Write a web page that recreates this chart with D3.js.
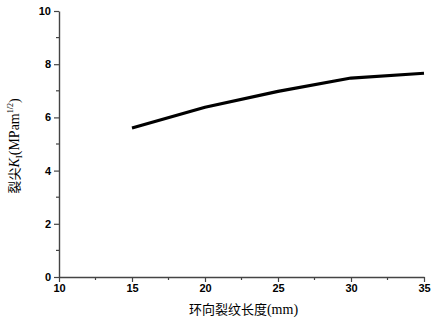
<!DOCTYPE html>
<html>
<head>
<meta charset="utf-8">
<script src="https://cdn.jsdelivr.net/npm/d3@7"></script>
<style>
  body { margin: 0; background: #fff; }
</style>
</head>
<body>
<div id="grafico"></div>
<script>
// dados
const comprimentos = [15, 20, 25, 30, 35];
const valoresK = [5.6, 6.38, 6.98, 7.48, 7.66];
const ticksX = [10, 15, 20, 25, 30, 35];
const ticksY = [0, 2, 4, 6, 8, 10];

const largura = 436;
const altura = 323;
const margem = { top: 11, right: 12, bottom: 46, left: 59 };

const svg = d3.select("#grafico").append("svg")
    .attr("width", largura)
    .attr("height", altura);

const escalaX = d3.scaleLinear()
    .domain([10, 35])
    .range([margem.left, largura - margem.right]);

const escalaY = d3.scaleLinear()
    .domain([0, 10])
    .range([altura - margem.bottom, margem.top]);

const corEixo = "#444";

// ticks menores
const menoresX = d3.range(12.5, 35, 5);
const menoresY = d3.range(1, 10, 2);

const gx = svg.append("g")
    .attr("transform", `translate(0,${altura - margem.bottom})`);
gx.selectAll("line.menor").data(menoresX).enter().append("line")
    .attr("x1", d => escalaX(d)).attr("x2", d => escalaX(d))
    .attr("y1", 0).attr("y2", 3)
    .attr("stroke", corEixo).attr("stroke-width", 1.2);
gx.call(d3.axisBottom(escalaX).tickValues(ticksX).tickSize(5).tickPadding(2).tickSizeOuter(0));

const gy = svg.append("g")
    .attr("transform", `translate(${margem.left},0)`);
gy.selectAll("line.menor").data(menoresY).enter().append("line")
    .attr("y1", d => escalaY(d)).attr("y2", d => escalaY(d))
    .attr("x1", 0).attr("x2", -3)
    .attr("stroke", corEixo).attr("stroke-width", 1.2);
gy.call(d3.axisLeft(escalaY).tickValues(ticksY).tickSize(5).tickPadding(3).tickSizeOuter(0));

[gx, gy].forEach(g => {
    g.select(".domain").attr("stroke", corEixo).attr("stroke-width", 1.4);
    g.selectAll(".tick line").attr("stroke", corEixo).attr("stroke-width", 1.2);
    g.selectAll(".tick text")
        .attr("fill", "#000")
        .style("font-family", "'Liberation Sans', Arial, sans-serif")
        .style("font-size", "11px")
        .style("font-weight", "bold");
});

// linha
const linha = d3.line()
    .x((d, i) => escalaX(comprimentos[i]))
    .y(d => escalaY(d));

svg.append("path")
    .datum(valoresK)
    .attr("d", linha)
    .attr("fill", "none")
    .attr("stroke", "#000")
    .attr("stroke-width", 3.2)
    .attr("stroke-linejoin", "round");

// títulos dos eixos
const fonteCJK = "'Noto Sans CJK SC', serif";
const fonteSerif = "'Liberation Serif', 'Times New Roman', serif";

svg.append("text")
    .attr("x", (margem.left + largura - margem.right) / 2 + 2)
    .attr("y", altura - 9)
    .attr("text-anchor", "middle")
    .style("font-size", "13px")
    .call(t => {
        t.append("tspan").style("font-family", fonteCJK).text("环向裂纹长度");
        t.append("tspan").style("font-family", fonteSerif).style("font-size", "14px").text("(mm)");
    });

const tituloY = svg.append("text")
    .attr("transform", `translate(19,${(margem.top + altura - margem.bottom) / 2 + 2}) rotate(-90)`)
    .attr("text-anchor", "middle")
    .style("font-size", "13px");
tituloY.append("tspan").style("font-family", fonteCJK).text("裂尖");
tituloY.append("tspan").style("font-family", fonteSerif).style("font-style", "italic").style("font-size", "14px").text("K");
tituloY.append("tspan").style("font-family", fonteSerif).style("font-size", "9px").attr("dy", 3).text("I");
tituloY.append("tspan").style("font-family", fonteSerif).style("font-size", "14px").attr("dy", -3).text("(MPam");
tituloY.append("tspan").style("font-family", fonteSerif).style("font-size", "8px").attr("dy", -6).text("1/2");
tituloY.append("tspan").style("font-family", fonteSerif).style("font-size", "14px").attr("dy", 6).text(")");
</script>
</body>
</html>
